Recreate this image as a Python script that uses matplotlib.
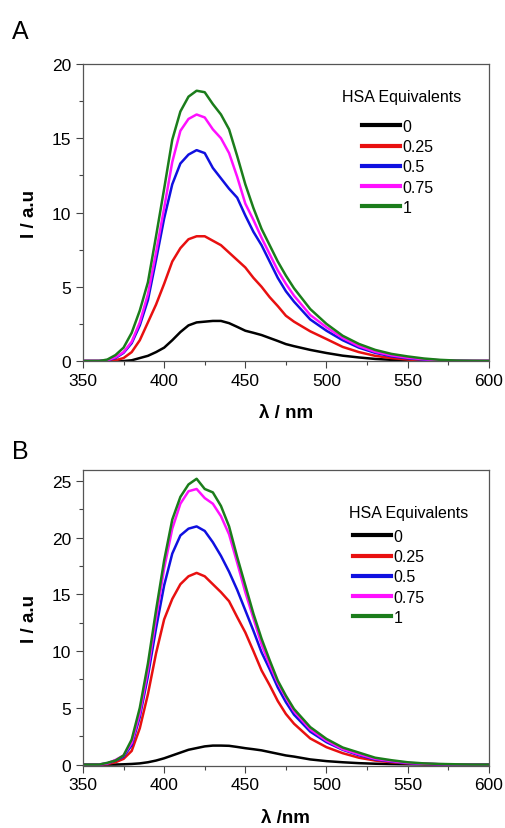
import matplotlib
matplotlib.use("Agg")
import matplotlib.pyplot as plt
from matplotlib.ticker import MultipleLocator

plt.rcParams['font.family'] = ['Liberation Sans', 'DejaVu Sans']

# wavelength grid (nm)
wl = [350, 355, 360, 365, 370, 375, 380, 385, 390, 395, 400, 405, 410, 415, 420,
      425, 430, 435, 440, 445, 450, 455, 460, 465, 470, 475, 480,
      490, 500, 510, 520, 530, 540, 550, 560, 570, 580, 590, 600]

equivalents = ["0", "0.25", "0.5", "0.75", "1"]
colors = ["#000000", "#e81010", "#1010e0", "#ff10ff", "#1b7d1b"]

# panel A intensities
a_0 = [0, 0, 0, 0, 0, 0, 0.05, 0.2, 0.35, 0.6, 0.9, 1.4, 1.95, 2.4, 2.6,
       2.65, 2.7, 2.7, 2.55, 2.3, 2.04, 1.9, 1.75, 1.55, 1.35, 1.14, 1.0,
       0.75, 0.54, 0.36, 0.24, 0.14, 0.08, 0.05, 0.02, 0.01, 0, 0, 0]
a_025 = [0, 0, 0, 0, 0.05, 0.2, 0.6, 1.4, 2.6, 3.8, 5.2, 6.7, 7.6, 8.2, 8.4,
         8.4, 8.1, 7.8, 7.3, 6.8, 6.3, 5.6, 5.0, 4.3, 3.7, 3.05, 2.65,
         2.0, 1.48, 0.95, 0.6, 0.35, 0.2, 0.1, 0.05, 0.02, 0, 0, 0]
a_05 = [0, 0, 0, 0.05, 0.2, 0.55, 1.2, 2.4, 4.1, 6.8, 9.6, 11.9, 13.3, 13.9, 14.2,
        14.0, 13.0, 12.3, 11.6, 11.0, 9.8, 8.7, 7.8, 6.7, 5.6, 4.7, 4.0,
        2.8, 2.04, 1.4, 0.9, 0.55, 0.32, 0.18, 0.09, 0.04, 0.01, 0, 0]
a_075 = [0, 0, 0, 0.05, 0.25, 0.6, 1.3, 2.6, 4.5, 7.3, 10.3, 13.4, 15.5, 16.3, 16.6,
         16.4, 15.6, 15.0, 14.0, 12.4, 10.6, 9.5, 8.3, 7.2, 6.1, 5.2, 4.4,
         3.1, 2.27, 1.55, 1.0, 0.62, 0.38, 0.22, 0.12, 0.05, 0.02, 0, 0]
a_1 = [0, 0, 0, 0.1, 0.4, 0.9, 1.9, 3.4, 5.3, 8.4, 11.6, 14.9, 16.8, 17.8, 18.2,
       18.1, 17.3, 16.6, 15.6, 13.8, 11.9, 10.3, 8.9, 7.8, 6.7, 5.75, 4.9,
       3.5, 2.5, 1.7, 1.15, 0.75, 0.48, 0.31, 0.17, 0.08, 0.03, 0.01, 0]

# panel B intensities
b_0 = [0, 0, 0, 0, 0, 0.02, 0.05, 0.1, 0.2, 0.35, 0.55, 0.8, 1.05, 1.3, 1.45,
       1.6, 1.67, 1.67, 1.65, 1.55, 1.44, 1.35, 1.25, 1.1, 0.95, 0.8, 0.7,
       0.45, 0.3, 0.2, 0.12, 0.07, 0.04, 0.02, 0.01, 0, 0, 0, 0]
b_025 = [0, 0, 0, 0.05, 0.2, 0.5, 1.2, 3.2, 6.2, 9.8, 12.8, 14.6, 15.9, 16.6, 16.9,
         16.6, 15.9, 15.2, 14.4, 13.0, 11.65, 10.0, 8.3, 7.0, 5.6, 4.46, 3.6,
         2.3, 1.53, 1.0, 0.6, 0.35, 0.2, 0.1, 0.05, 0.02, 0, 0, 0]
b_05 = [0, 0, 0, 0.1, 0.35, 0.7, 1.7, 4.2, 7.8, 12.0, 15.8, 18.6, 20.2, 20.8, 21.0,
        20.6, 19.6, 18.4, 17.0, 15.4, 13.6, 11.8, 9.9, 8.4, 6.8, 5.5, 4.4,
        2.9, 1.97, 1.3, 0.82, 0.45, 0.26, 0.12, 0.06, 0.02, 0, 0, 0]
b_075 = [0, 0, 0, 0.1, 0.4, 0.8, 1.9, 4.5, 8.3, 12.9, 17.3, 20.8, 23.0, 24.1, 24.3,
         23.5, 23.0, 21.9, 20.3, 17.8, 15.2, 12.9, 10.6, 8.8, 7.2, 5.9, 4.7,
         3.1, 2.1, 1.35, 0.9, 0.5, 0.3, 0.15, 0.07, 0.03, 0.01, 0, 0]
b_1 = [0, 0, 0, 0.15, 0.35, 0.8, 2.2, 5.0, 8.9, 13.6, 18.0, 21.6, 23.6, 24.7, 25.2,
       24.3, 24.0, 22.8, 21.0, 18.3, 15.8, 13.3, 11.1, 9.2, 7.4, 6.07, 4.9,
       3.3, 2.26, 1.5, 1.05, 0.6, 0.38, 0.2, 0.1, 0.05, 0.02, 0, 0]

panels = [
    ("A", [a_0, a_025, a_05, a_075, a_1], (0, 20), "λ / nm"),
    ("B", [b_0, b_025, b_05, b_075, b_1], (-0.1, 26), "λ /nm"),
]

fig = plt.figure(figsize=(5.06, 8.29), dpi=100)
boxes = [[0.164, 0.5633, 0.802, 0.3583], [0.164, 0.0752, 0.802, 0.357]]
letter_y = [0.962, 0.455]
title_pos = [(0.784, 0.889), (0.803, 0.857)]
leg_pos = [(0.687, 0.815), (0.665, 0.80)]

for (letter, series, ylim, xlabel), box, ly, tp, lp in zip(panels, boxes, letter_y,
                                                         title_pos, leg_pos):
    ax = fig.add_axes(box)
    for vals, lab, c in zip(series, equivalents, colors):
        ax.plot(wl, vals, color=c, lw=1.8, label=lab)
    ax.set_xlim(350, 600)
    ax.set_ylim(*ylim)
    ax.xaxis.set_major_locator(MultipleLocator(50))
    ax.xaxis.set_minor_locator(MultipleLocator(25))
    ax.yaxis.set_major_locator(MultipleLocator(5))
    ax.yaxis.set_minor_locator(MultipleLocator(2.5))
    ax.tick_params(which='major', direction='out', length=5, width=0.8,
                   labelsize=12.5, color='#444444')
    ax.tick_params(which='minor', direction='out', length=3, width=0.8, color='#444444')
    for s in ax.spines.values():
        s.set_color('#555555')
        s.set_linewidth(0.9)
    ax.set_xlabel(xlabel, fontsize=13.5, fontweight='bold', labelpad=12)
    ax.set_ylabel("I / a.u", fontsize=13.5, fontweight='bold', labelpad=10)
    ax.text(tp[0], tp[1], "HSA Equivalents", transform=ax.transAxes,
            ha='center', va='center', fontsize=11.5)
    leg = ax.legend(loc='upper left', bbox_to_anchor=lp, frameon=False,
                    fontsize=11.5, handlelength=2.4, handletextpad=0.15,
                    labelspacing=0.33, borderpad=0, borderaxespad=0)
    for h in leg.get_lines():
        h.set_linewidth(3)
    fig.text(0.024, ly, letter, fontsize=18, ha='left', va='center')

fig.savefig("out.png", dpi=100)
